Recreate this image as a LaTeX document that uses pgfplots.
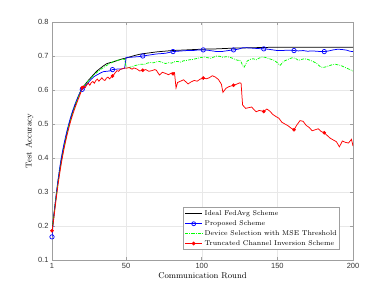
\documentclass[border=0pt]{standalone}
\usepackage{fontspec}
\usepackage{pgfplots}
\pgfplotsset{compat=1.18}
\newfontfamily\tickfont{Liberation Sans}
\definecolor{mgreen}{rgb}{0,1,0}
\begin{document}
\begin{tikzpicture}
\path[use as bounding box] (-52bp,-33bp) rectangle (338bp,260bp);
\begin{axis}[
  scale only axis,
  width=301bp, height=238bp,
  xmin=1, xmax=200, ymin=0.1, ymax=0.8,
  xtick={1,50,100,150,200},
  ytick={0.1,0.2,0.3,0.4,0.5,0.6,0.7,0.8},
  yticklabels={0.1,0.2,0.3,0.4,0.5,0.6,0.7,0.8},
  /pgf/number format/assume math mode=true,
  tick label style={font=\tickfont\fontsize{7.5}{8}\selectfont, text=black!80},
  grid=major,
  major grid style={gray!18, line width=0.4pt},
  axis line style={gray!75, line width=0.6pt},
  tick style={gray!75, line width=0.5pt},
  major tick length=3bp,
  tick align=inside,
  xlabel={Communication Round},
  ylabel={Test Accuracy},
  label style={font=\fontsize{8.5}{10}\selectfont},
  xlabel style={yshift=3bp},
  ylabel style={yshift=-2bp},
  legend cell align=left,
  legend style={at={(0.957,0.042)}, anchor=south east, draw=gray!75, line width=0.6pt,
     font=\fontsize{7}{8.5}\selectfont, inner sep=1pt, row sep=-0.5pt},
]
% Ideal FedAvg
\addplot[black, line width=0.75pt, forget plot] coordinates {
(1,0.185)(2,0.225)(3,0.262)(4,0.298)(5,0.332)(6,0.362)(7,0.39)(8,0.414)(9,0.436)(10,0.456)
(11,0.476)(12,0.494)(13,0.51)(14,0.525)(15,0.54)(16,0.552)(17,0.564)(18,0.576)(19,0.587)(20,0.598)
(21,0.606)(23,0.617)(25,0.628)(27,0.638)(29,0.648)(31,0.657)(33,0.664)(35,0.671)(37,0.677)(39,0.68)
(41,0.682)(43,0.685)(45,0.688)(47,0.691)(50,0.694)(53,0.698)(56,0.702)(60,0.706)(65,0.709)(70,0.712)
(75,0.714)(80,0.716)(90,0.718)(100,0.720)(110,0.721)(120,0.723)(130,0.724)(140,0.725)(150,0.726)(200,0.726)
};
% Proposed
\addplot[blue, line width=0.75pt, forget plot] coordinates {
(1,0.168)(2,0.22)(3,0.262)(4,0.3)(5,0.336)(6,0.368)(7,0.397)(8,0.421)(9,0.443)(10,0.463)
(11,0.482)(12,0.499)(13,0.515)(14,0.53)(15,0.543)(16,0.556)(17,0.567)(18,0.578)(19,0.588)(20,0.597)
(21,0.602)(22,0.604)(23,0.612)(25,0.622)(27,0.632)(29,0.640)(31,0.645)(33,0.650)(35,0.654)(37,0.655)
(39,0.656)(41,0.66)(43,0.661)(45,0.662)(47,0.662)(49,0.664)(50,0.696)(52,0.696)(55,0.697)(58,0.698)
(61,0.700)(64,0.702)(67,0.704)(70,0.706)(73,0.707)(76,0.708)(79,0.711)(81,0.713)(84,0.714)(87,0.715)
(90,0.716)(94,0.716)(98,0.718)(101,0.718)(104,0.717)(107,0.715)(110,0.713)(113,0.713)(116,0.715)(119,0.717)
(121,0.718)(124,0.72)(127,0.724)(130,0.724)(134,0.723)(137,0.722)(141,0.721)(144,0.72)(147,0.718)(150,0.716)
(153,0.716)(156,0.717)(159,0.717)(161,0.716)(164,0.715)(167,0.716)(170,0.714)(173,0.715)(176,0.714)(179,0.713)
(181,0.713)(184,0.715)(187,0.718)(190,0.72)(193,0.719)(196,0.717)(198,0.714)(200,0.713)
};
\addplot[blue, only marks, mark=o, mark size=2.2pt, line width=0.7pt, forget plot] coordinates {
(1,0.168)(21,0.602)(41,0.66)(61,0.700)(81,0.713)(101,0.718)(121,0.718)(141,0.721)(161,0.716)(181,0.713)
};
% Device selection with MSE threshold
\addplot[mgreen, line width=0.75pt, dash pattern=on 3pt off 1.2pt on 0.8pt off 1.2pt, forget plot] coordinates {
(1,0.185)(2,0.22)(3,0.258)(4,0.294)(5,0.328)(6,0.358)(7,0.386)(8,0.411)(9,0.433)(10,0.454)
(11,0.474)(12,0.492)(13,0.508)(14,0.523)(15,0.537)(16,0.55)(17,0.562)(18,0.574)(19,0.585)(20,0.596)
(21,0.605)(23,0.616)(25,0.627)(27,0.636)(29,0.645)(31,0.653)(33,0.66)(35,0.666)(37,0.672)(39,0.677)
(41,0.682)(43,0.686)(45,0.688)(47,0.69)(49,0.691)(50,0.668)(52,0.666)(54,0.669)(56,0.672)(58,0.674)
(60,0.676)(62,0.675)(64,0.679)(66,0.681)(68,0.68)(70,0.683)(72,0.684)(74,0.681)(76,0.678)(78,0.68)
(80,0.679)(82,0.683)(84,0.684)(86,0.682)(88,0.686)(90,0.687)(92,0.689)(94,0.69)(96,0.692)(98,0.694)
(100,0.696)(102,0.697)(104,0.695)(106,0.693)(108,0.697)(110,0.7)(112,0.699)(114,0.696)(116,0.698)(118,0.697)
(120,0.694)(122,0.69)(124,0.687)(125,0.688)(126,0.683)(127,0.672)(128,0.667)(129,0.675)(130,0.685)(132,0.69)
(134,0.692)(136,0.689)(138,0.694)(140,0.697)(142,0.696)(144,0.693)(146,0.69)(148,0.687)(150,0.68)(151,0.675)
(152,0.673)(154,0.684)(156,0.688)(158,0.692)(160,0.695)(162,0.693)(164,0.687)(166,0.69)(168,0.692)(170,0.69)
(172,0.687)(174,0.683)(176,0.678)(178,0.67)(180,0.666)(182,0.668)(184,0.671)(186,0.674)(188,0.676)(190,0.674)
(192,0.672)(194,0.668)(196,0.664)(198,0.66)(200,0.656)
};
% Truncated channel inversion
\addplot[red, line width=0.75pt, forget plot] coordinates {
(1,0.186)(2,0.215)(3,0.252)(4,0.288)(5,0.322)(6,0.352)(7,0.38)(8,0.405)(9,0.428)(10,0.449)
(11,0.468)(12,0.486)(13,0.503)(14,0.518)(15,0.532)(16,0.545)(17,0.557)(18,0.569)(19,0.58)(20,0.592)
(21,0.607)(22,0.612)(23,0.607)(24,0.615)(25,0.62)(26,0.614)(27,0.622)(28,0.625)(29,0.62)(30,0.628)
(31,0.632)(32,0.626)(33,0.631)(34,0.636)(35,0.63)(36,0.628)(37,0.635)(38,0.638)(39,0.633)(40,0.637)
(41,0.641)(42,0.646)(43,0.652)(44,0.657)(45,0.655)(46,0.66)(47,0.662)(48,0.663)(49,0.665)(50,0.664)
(52,0.666)(54,0.661)(55,0.665)(57,0.662)(59,0.656)(61,0.658)(63,0.66)(65,0.655)(67,0.657)(69,0.66)
(70,0.658)(72,0.644)(74,0.652)(76,0.649)(78,0.645)(80,0.65)(81,0.648)(82,0.651)(83,0.606)(84,0.622)
(86,0.626)(88,0.63)(90,0.622)(91,0.618)(93,0.624)(95,0.628)(97,0.626)(99,0.632)(101,0.635)(103,0.633)
(105,0.636)(107,0.642)(109,0.638)(111,0.631)(113,0.617)(114,0.593)(116,0.605)(118,0.61)(121,0.614)(123,0.617)
(125,0.621)(126,0.62)(127,0.556)(129,0.546)(131,0.548)(133,0.55)(135,0.54)(136,0.536)(138,0.54)(141,0.537)
(143,0.544)(145,0.538)(147,0.528)(149,0.522)(151,0.517)(153,0.505)(155,0.5)(157,0.495)(159,0.488)(161,0.483)
(163,0.498)(165,0.51)(167,0.508)(169,0.496)(171,0.49)(173,0.48)(175,0.483)(177,0.486)(179,0.478)(181,0.474)
(183,0.466)(185,0.458)(187,0.453)(189,0.448)(191,0.433)(193,0.45)(195,0.446)(197,0.444)(199,0.455)(200,0.435)
};
\addplot[red, only marks, mark=*, mark size=1.6pt, forget plot] coordinates {
(1,0.186)(21,0.607)(41,0.641)(61,0.658)(81,0.648)(101,0.635)(121,0.614)(141,0.537)(161,0.483)(181,0.474)
};
\addlegendimage{black, line width=0.9pt}
\addlegendentry{Ideal FedAvg Scheme}
\addlegendimage{blue, line width=0.75pt, mark=o, mark size=2pt}
\addlegendentry{Proposed Scheme}
\addlegendimage{mgreen, line width=0.75pt, dash pattern=on 3pt off 1.2pt on 0.8pt off 1.2pt}
\addlegendentry{Device Selection with MSE Threshold}
\addlegendimage{red, line width=0.75pt, mark=*, mark size=1.5pt}
\addlegendentry{Truncated Channel Inversion Scheme}
\end{axis}
\end{tikzpicture}
\end{document}
